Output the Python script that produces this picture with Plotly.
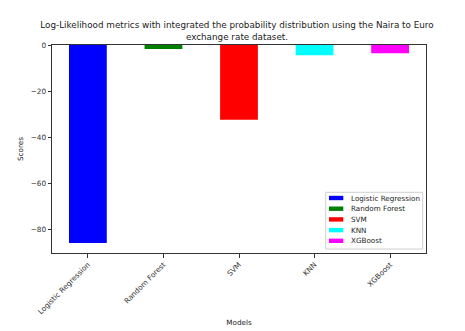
import plotly.graph_objects as go

models = ["Logistic Regression", "Random Forest", "SVM", "KNN", "XGBoost"]
scores = [-86.1, -1.7, -32.5, -4.5, -3.6]
colors = ["blue", "green", "red", "cyan", "magenta"]
y_ticks = [0, -20, -40, -60, -80]

# the page body adds an 8px margin, so the figure is made 8px smaller
OFF = 8
W, H = 465 - OFF, 331 - OFF
# plot area in page pixels (left, right, top, bottom)
L, R, T, B = 52, 426, 45, 253


def px(x):
    return (x - L) / (R - L)


def py(y):
    return (B - y) / (B - T)


fig = go.Figure()
for m, s, c in zip(models, scores, colors):
    fig.add_trace(go.Bar(x=[m], y=[s], name=m, marker_color=c,
                         marker_line_width=0, width=0.5, showlegend=False))

# matplotlib-style compact legend
shapes = [dict(type="rect", xref="paper", yref="paper",
               x0=px(325.7), x1=px(422.7), y0=py(249), y1=py(192.3),
               line=dict(color="#d0d0d0", width=1), fillcolor="white", layer="above")]
annotations = []
for i, (m, c) in enumerate(zip(models, colors)):
    yc = 198 + 10.7 * i
    shapes.append(dict(type="rect", xref="paper", yref="paper",
                       x0=px(329), x1=px(343.3), y0=py(yc + 2.2), y1=py(yc - 2.2),
                       line=dict(width=0), fillcolor=c, layer="above"))
    annotations.append(dict(text=m, xref="paper", yref="paper", x=px(349.3), y=py(yc),
                            xanchor="left", yanchor="middle", showarrow=False,
                            font=dict(size=7.2, color="#222222")))

axis_style = dict(showline=True, linecolor="#333333", linewidth=1, mirror=True,
                  ticks="outside", ticklen=3.5, tickcolor="#333333",
                  showgrid=False, zeroline=False, automargin=False,
                  tickfont=dict(size=7.3, color="#333333"))

fig.update_layout(
    width=W, height=H,
    barmode="overlay",
    font=dict(family="DejaVu Sans", color="#222222"),
    title=dict(text="Log-Likelihood metrics with integrated the probability distribution using the Naira to Euro<br>exchange rate dataset.",
               x=px(237), xanchor="center", xref="paper",
               y=1 - (28.2 - OFF) / H, yanchor="middle",
               font=dict(size=8.8, color="#222222")),
    margin=dict(l=L - OFF, r=465 - R, t=T - OFF, b=331 - B),
    plot_bgcolor="white", paper_bgcolor="white",
    showlegend=False,
    shapes=shapes,
    annotations=annotations,
    xaxis=dict(axis_style, range=[-0.475, 4.475], tickangle=-45,
               title=dict(text="Models", font=dict(size=7.2), standoff=4)),
    yaxis=dict(axis_style, range=[-90.4, 0], tickvals=y_ticks,
               ticktext=[("\u2212" + str(abs(v))) if v else "0" for v in y_ticks],
               title=dict(text="Scores", font=dict(size=7.2), standoff=6)),
)

fig.write_html("out.html")
